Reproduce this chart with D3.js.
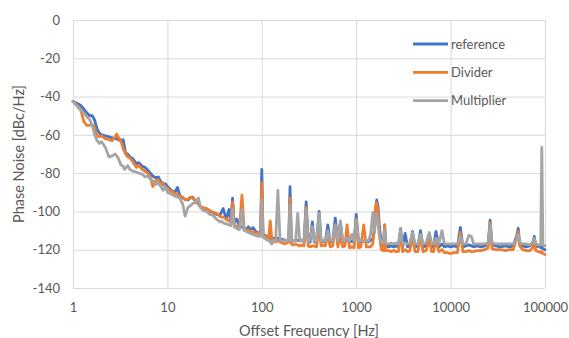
<!DOCTYPE html>
<html>
<head>
<meta charset="utf-8">
<script src="https://cdn.jsdelivr.net/npm/d3@7"></script>
<style>
  html, body { margin: 0; padding: 0; background: #ffffff; }
  svg { display: block; font-family: Lato, "Open Sans", sans-serif; }
</style>
</head>
<body>
<div id="chart"></div>
<script>
// Offset frequency [Hz] shared by all three series
const freqs = [
  1, 1.1, 1.2, 1.3, 1.4, 1.5, 1.6, 1.7, 1.8, 1.9, 2, 2.2, 2.4, 2.6, 2.8, 2.9,
  3, 3.2, 3.4, 3.5, 3.6, 3.8, 4, 4.3, 4.7, 5, 5.4, 5.8, 6.2, 6.6, 7, 7.5, 8, 8.5, 9, 9.5,
  10, 11, 12, 12.8, 13.5, 14.5, 15.4, 16.5, 17.5, 18.5, 20, 21.3, 22.5, 24, 26, 28, 30.5, 33, 36, 37.6,
  39, 42, 45, 47, 49, 51, 54.4, 58, 61.6, 65, 69, 72, 76, 81, 86, 92, 97,
  100, 103, 108, 113, 118, 123, 128, 134, 140, 148, 156, 165, 175, 185, 193, 199, 206, 215, 228, 240,
  252, 265, 280, 295, 310, 325, 343, 360, 380, 405, 425, 450, 470, 500, 530, 565, 600, 640, 680, 720,
  760, 800, 850, 900, 950,
  1000, 1060, 1120, 1200, 1280, 1350, 1420, 1500, 1560, 1610, 1650, 1700, 1760, 1850, 1950, 2000, 2060, 2200, 2350, 2500,
  2650, 2800, 2950, 3100, 3300, 3500, 3700, 3950, 4200, 4500, 4800, 5100, 5500, 5950, 6300, 6600, 7000, 7500, 8100, 8600,
  9200,
  10000, 10800, 11800, 12700, 13500, 14500, 15600, 16600, 17500, 19000, 21000, 23000, 25000, 26200, 27500, 30000, 34000, 38000, 42000, 46000,
  50000, 52000, 54000, 58000, 63000, 69000, 74000, 77000, 80000, 86000, 90000, 92500, 95000, 100000
];

const reference = [
  -42.5, -43.5, -44.5, -46.5, -48.5, -50, -50, -52.5, -57, -59, -60, -60.5, -61, -61.5, -62, -62,
  -62.5, -63, -62.5, -66, -69.5, -70, -71.5, -72.5, -75, -74.5, -76.5, -77, -78.5, -80, -81.5, -82.5, -82, -84.5, -86, -85.5,
  -87, -89, -90, -87.5, -91.5, -93, -93.5, -94, -93, -92.5, -95, -96, -98, -99, -99, -100, -100.5, -101.5, -102, -100,
  -98.5, -104, -99, -105, -93, -106, -104, -108, -108, -109, -109.5, -108, -109.5, -108.5, -110.5, -111, -111.5,
  -78, -112, -112.5, -113, -113.5, -114, -114, -114, -114.5, -114, -115, -114.5, -115, -115.5, -115, -87, -115, -115.5, -115, -115,
  -115.5, -115, -116, -95, -115.5, -116, -105.5, -116, -115.5, -100, -116, -115.5, -116, -107, -116, -115.5, -103.5, -116, -106, -116,
  -115.5, -115, -116, -115.5, -116,
  -101.5, -116, -116, -115.5, -115.5, -116, -115, -114.5, -110, -99, -94, -97, -108, -117, -117.5, -107, -118, -118.5, -118, -118.5,
  -118, -118.5, -109, -118.5, -111.5, -118.5, -118, -110.5, -118.5, -118, -110, -118.5, -118, -112, -118.5, -118, -110.5, -118.5, -117, -118.5,
  -118,
  -118.5, -118, -118.5, -108.3, -118.5, -118, -117.5, -118, -118.5, -118, -118.5, -118, -117, -104.5, -117.5, -118, -118.5, -118, -118.5, -118,
  -113, -108.8, -117, -118, -118.5, -118, -117, -113, -118.5, -118, -119, -118.5, -119.5, -120
];

const divider = [
  -42.5, -44.5, -46.5, -53, -55, -55, -54.5, -56.5, -60.5, -61, -60.5, -62, -62.5, -63, -61, -59.5,
  -61, -63, -67, -68.5, -70, -71.5, -72, -74, -77, -76, -78, -79, -80, -82, -87, -84, -83.5, -86, -85, -87.5,
  -88, -89.5, -90.5, -91, -92, -92.5, -94, -93.5, -92.5, -93, -94.5, -96, -97.5, -98, -98.5, -99.5, -100.5, -101, -102.5, -103,
  -103, -104, -105, -105.5, -95, -107, -108, -108.5, -91.5, -109, -110, -109.5, -110.5, -111, -111, -111.5, -112,
  -85, -112.5, -113, -113.5, -114, -105, -115, -115.5, -116, -115, -116, -116.5, -117, -116.5, -116, -93, -117, -117.5, -117, -117.5,
  -118, -117.5, -118, -98, -118, -118.5, -118, -118, -118.5, -108, -118, -117.5, -118, -112, -118.5, -118, -107, -118.5, -113, -118.5,
  -118, -107, -119, -118.5, -119,
  -104, -119, -118.5, -107, -118.5, -118.5, -118.5, -117, -107, -97, -95.5, -100, -112, -120, -120.5, -107, -120.5, -120.5, -121, -120.5,
  -121, -121, -111, -121, -120, -121, -120.5, -113, -121, -121, -113, -121, -120.5, -115, -121, -121, -115, -121, -120, -121.5,
  -121.5,
  -122, -121.5, -121.5, -111, -121, -121, -120.5, -121, -121, -120.5, -120.5, -120, -119, -106, -119.5, -120, -120, -120.5, -120, -120,
  -114, -110.5, -118, -120, -120.5, -120.5, -119, -116, -120.5, -121, -121.5, -121, -122, -122.5
];

const multiplier = [
  -42.5, -45, -47, -48.5, -50.5, -52, -55, -60, -63, -64.5, -63.5, -66.5, -71.5, -71, -70, -71,
  -72, -75.5, -76.5, -78, -77.5, -76, -78, -79, -79.5, -80, -80.5, -82, -81.5, -83, -84, -86, -85, -87, -89, -87,
  -90, -91, -92, -92.5, -93, -96, -102.5, -98, -97, -96, -95, -93, -98, -99.5, -100, -101.5, -102, -104, -105.5, -105,
  -106, -106.5, -107, -107.5, -99, -108, -109, -109.5, -99, -110, -110.5, -111, -111.5, -112, -112.5, -113, -113,
  -94, -113.5, -114, -115, -115, -116, -117, -115, -115.5, -89, -115, -115.5, -115, -115.5, -115, -96.5, -115.5, -115, -115.5, -101,
  -115.5, -115, -115.5, -99, -115.5, -115, -108, -115.5, -115, -101, -115.5, -115, -115.5, -110, -115, -115.5, -107, -115.5, -105, -115.5,
  -115, -114, -115.5, -112, -115.5,
  -104.5, -115.5, -115, -115.5, -115, -115.5, -112, -100.5, -111, -104, -101, -106, -113, -116, -116.5, -110, -116.5, -117, -116.5, -117,
  -116.5, -117, -109.5, -117, -116.5, -117, -116.5, -111, -117, -117, -112, -117, -116.5, -111, -117, -117, -114, -117, -110, -117,
  -117,
  -117, -117, -117, -113, -117, -117, -112.5, -113, -117, -117, -117, -117, -116.5, -107, -116.5, -117, -117, -117, -117, -117,
  -115, -112, -116, -117, -117, -117.5, -116, -114, -117, -117.5, -117.5, -66.5, -117.5, -118
];

const seriesNames = ['reference', 'Divider', 'Multiplier'];
const seriesValues = [reference, divider, multiplier];
const seriesColors = ['#4472C4', '#ED7D31', '#A5A5A5'];

const xTicks = [1, 10, 100, 1000, 10000, 100000];
const yTicks = [0, -20, -40, -60, -80, -100, -120, -140];

const W = 569;
const H = 338;
const plot = { left: 73, right: 545, top: 20, bottom: 288 };
const textColor = '#595959';
const gridColor = '#D9D9D9';

const svg = d3
  .select('#chart')
  .append('svg')
  .attr('width', W)
  .attr('height', H);

svg.append('rect').attr('width', W).attr('height', H).attr('fill', '#ffffff');

const x = d3.scaleLog().domain([1, 100000]).range([plot.left, plot.right]);
const y = d3.scaleLinear().domain([-140, 0]).range([plot.bottom, plot.top]);

// Y axis with horizontal gridlines (plain hyphen minus like the source)
const yAxis = svg
  .append('g')
  .attr('transform', `translate(${plot.left},0)`)
  .call(
    d3.axisLeft(y)
      .tickValues(yTicks)
      .tickSize(-(plot.right - plot.left))
      .tickPadding(13)
      .tickFormat((d) => String(d))
  );
yAxis.select('.domain').remove();
yAxis.selectAll('line').attr('stroke', gridColor);
yAxis.selectAll('text')
  .attr('font-size', '13px')
  .attr('fill', textColor)
  .attr('font-family', 'Lato, "Open Sans", sans-serif');

// X axis with vertical gridlines
const xAxis = svg
  .append('g')
  .attr('transform', `translate(0,${plot.bottom})`)
  .call(
    d3.axisBottom(x)
      .tickValues(xTicks)
      .tickSize(-(plot.bottom - plot.top))
      .tickPadding(15)
      .tickFormat((d) => String(d))
  );
xAxis.select('.domain').remove();
xAxis.selectAll('line').attr('stroke', gridColor);
xAxis.selectAll('text')
  .attr('font-size', '13px')
  .attr('fill', textColor)
  .attr('font-family', 'Lato, "Open Sans", sans-serif');

// Series lines (drawn in legend order, Multiplier on top)
const line = d3
  .line()
  .x((d) => x(d[0]))
  .y((d) => y(d[1]));

seriesValues.forEach((vals, i) => {
  const pts = freqs.map((f, j) => [f, vals[j]]);
  svg
    .append('path')
    .datum(pts)
    .attr('fill', 'none')
    .attr('stroke', seriesColors[i])
    .attr('stroke-width', 2.8)
    .attr('stroke-linejoin', 'round')
    .attr('stroke-linecap', 'round')
    .attr('d', line);
});

// Legend
const legend = svg.append('g').attr('transform', 'translate(413,44)');
seriesNames.forEach((name, i) => {
  const row = legend.append('g').attr('transform', `translate(0,${i * 28.3})`);
  row.append('line')
    .attr('x1', 0)
    .attr('x2', 35)
    .attr('stroke', seriesColors[i])
    .attr('stroke-width', 2.8);
  row.append('text')
    .attr('x', 38)
    .attr('dy', '0.35em')
    .attr('font-size', '13px')
    .attr('fill', textColor)
    .text(name);
});

// Axis titles
svg.append('text')
  .attr('x', (plot.left + plot.right) / 2)
  .attr('y', 331)
  .attr('dy', '0.35em')
  .attr('text-anchor', 'middle')
  .attr('font-size', '14.5px')
  .attr('fill', textColor)
  .text('Offset Frequency [Hz]');

svg.append('text')
  .attr('transform', `translate(18.5,${(plot.top + plot.bottom) / 2}) rotate(-90)`)
  .attr('dy', '0.35em')
  .attr('text-anchor', 'middle')
  .attr('font-size', '14.5px')
  .attr('fill', textColor)
  .text('Phase Noise [dBc/Hz]');
</script>
</body>
</html>
